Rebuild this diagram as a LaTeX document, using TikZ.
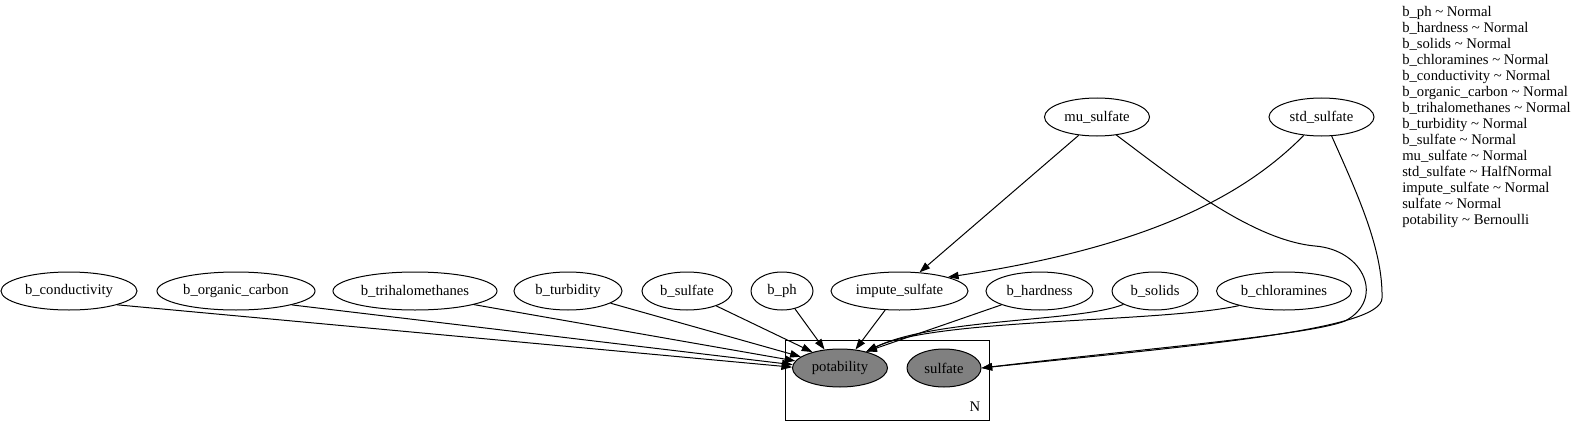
\documentclass[tikz,border=0pt]{standalone}
\usepackage{fontspec}
\setmainfont{Liberation Serif}
\usetikzlibrary{arrows.meta,shapes.geometric}

\definecolor{obsgray}{RGB}{128,128,128}

\begin{document}
\begin{tikzpicture}[
  font=\fontsize{11}{12}\selectfont,
  x=0.75pt, y=-0.75pt,
  var/.style={draw, ellipse, line width=0.75pt, inner sep=0pt, minimum height=28.5pt},
  obs/.style={var, fill=obsgray},
  plate/.style={draw, line width=0.75pt, inner sep=0pt, minimum width=153pt, minimum height=60pt},
  arrow/.style={-{Triangle[length=8pt,width=5.6pt]}, line width=0.75pt}
]
\useasboundingbox (0,0) rectangle (1577,435);

\node[plate] (plate) at (887,380) {};
\node (plateN) at (975,407) {N};

\node[var, minimum width=102pt]    (bcond)   at (69,291)    {b\_conductivity};
\node[var, minimum width=118.5pt]  (borg)    at (236,291)   {b\_organic\_carbon};
\node[var, minimum width=123pt]    (btri)    at (415,291)   {b\_trihalomethanes};
\node[var, minimum width=81pt]     (bturb)   at (568,291)   {b\_turbidity};
\node[var, minimum width=67.5pt]   (bsulf)   at (687,291)   {b\_sulfate};
\node[var, minimum width=46.5pt]   (bph)     at (782,291)   {b\_ph};
\node[var, minimum width=102.75pt] (impute)  at (899.5,291) {impute\_sulfate};
\node[var, minimum width=80.25pt]  (bhard)   at (1039.5,291) {b\_hardness};
\node[var, minimum width=64.5pt]   (bsolids) at (1155,291)  {b\_solids};
\node[var, minimum width=101.25pt] (bchlor)  at (1284,291)  {b\_chloramines};
\node[var, minimum width=78.75pt]  (mu)      at (1097,117)  {mu\_sulfate};
\node[var, minimum width=78.75pt]  (std)     at (1321.5,117) {std\_sulfate};
\node[obs, minimum width=71.25pt]  (pot)     at (840,368)   {potability};
\node[obs, minimum width=55.5pt]   (sulf)    at (944,368)   {sulfate};

\node[anchor=north west, align=left, inner sep=0pt] (legend) at (1402,6) {%
b\_ph \textasciitilde{} Normal\\
b\_hardness \textasciitilde{} Normal\\
b\_solids \textasciitilde{} Normal\\
b\_chloramines \textasciitilde{} Normal\\
b\_conductivity \textasciitilde{} Normal\\
b\_organic\_carbon \textasciitilde{} Normal\\
b\_trihalomethanes \textasciitilde{} Normal\\
b\_turbidity \textasciitilde{} Normal\\
b\_sulfate \textasciitilde{} Normal\\
mu\_sulfate \textasciitilde{} Normal\\
std\_sulfate \textasciitilde{} HalfNormal\\
impute\_sulfate \textasciitilde{} Normal\\
sulfate \textasciitilde{} Normal\\
potability \textasciitilde{} Bernoulli};

\draw[arrow] (bcond.-16) -- (pot.179);
\draw[arrow] (borg.-14) -- (pot.176);
\draw[arrow] (btri.-13) -- (pot.171);
\draw[arrow] (bturb.-16) -- (pot.164);
\draw[arrow] (bsulf.-27) -- (pot.150);
\draw[arrow] (bph.-54) -- (pot.130);
\draw[arrow] (impute.-127) -- (pot.50);
\draw[arrow] (bhard.-160) -- (pot.32);
\draw[arrow] (bsolids.-157) .. controls (1080,322) and (935,318) .. (pot.32);
\draw[arrow] (bchlor.-162) .. controls (1160,323) and (935,318) .. (pot.32);

\draw[arrow] (mu.-135) -- (impute.43);
\draw[arrow] (std.-134) .. controls (1240,200) and (1140,248) .. (impute.16);

\draw[arrow] (mu.-43) .. controls (1170,175) and (1250,240) .. (1315,246)
  .. controls (1365,250) and (1385,300) .. (1345,321)
  .. controls (1310,335) and (1150,348) .. (sulf.east);
\draw[arrow] (std.-62) .. controls (1358,195) and (1383,250) .. (1382,298)
  .. controls (1382,330) and (1200,345) .. (sulf.east);
\end{tikzpicture}
\end{document}
